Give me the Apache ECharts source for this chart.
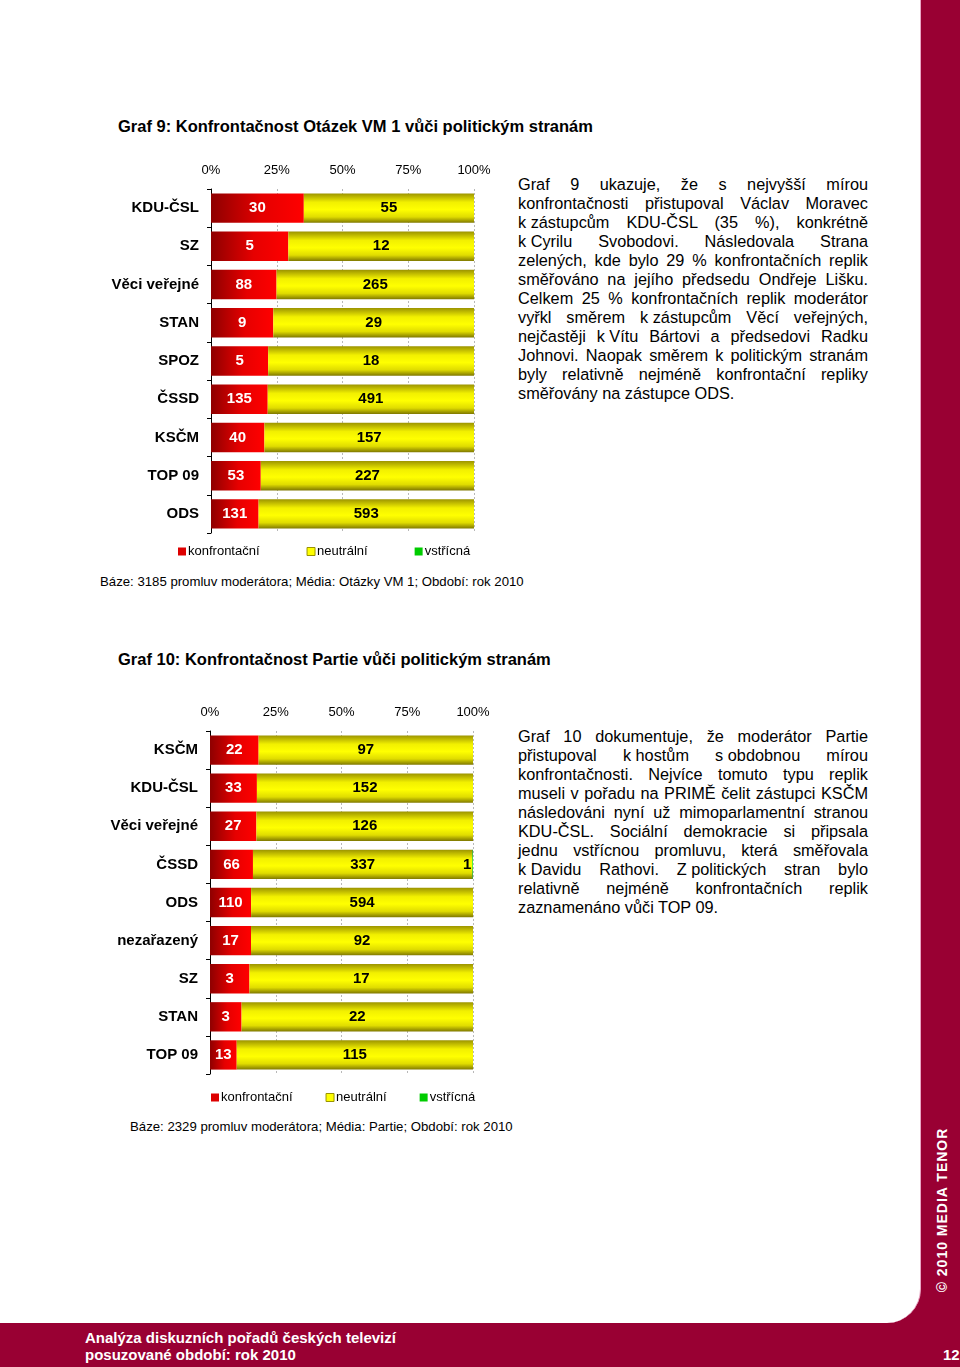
<!DOCTYPE html>
<html>
<head>
<meta charset="utf-8">
<script src="https://cdn.jsdelivr.net/npm/echarts@6/dist/echarts.min.js"></script>
<style>
html,body{margin:0;padding:0;}
body{width:960px;height:1367px;position:relative;background:#990033;overflow:hidden;font-family:'Liberation Sans',Arial,sans-serif;color:#000;}
#page{position:absolute;left:0;top:0;width:920px;height:1323px;background:#fff;border-bottom-right-radius:34px;border-right:1px solid #e9a6c4;}
#chart{position:absolute;left:0;top:0;width:960px;height:1367px;}
.title{position:absolute;font-weight:bold;font-size:16.5px;white-space:nowrap;}
.note{position:absolute;font-size:13.2px;white-space:nowrap;}
.para{position:absolute;left:518px;width:350px;font-size:16.3px;line-height:19px;}
.para div{text-align:justify;text-align-last:justify;white-space:nowrap;}
.para div.j{white-space:normal;}
.para div.last{text-align-last:left;}
.nb{display:inline-block;}
.foot{position:absolute;color:#fff;font-weight:bold;white-space:nowrap;font-family:'Liberation Sans Narrow','Liberation Sans',Arial,sans-serif;}
.copy{position:absolute;left:942px;top:1210px;transform:translate(-50%,-50%) rotate(-90deg);color:#fff;font-weight:bold;font-size:14px;letter-spacing:1px;white-space:nowrap;}
</style>
</head>
<body>
<div id="page"></div>
<div class="title" style="left:118px;top:117px;">Graf 9: Konfrontačnost Otázek VM 1 vůči politickým stranám</div>
<div class="title" style="left:118px;top:650px;">Graf 10: Konfrontačnost Partie vůči politickým stranám</div>
<div class="note" style="left:100px;top:574px;">Báze: 3185 promluv moderátora; Média: Otázky VM 1; Období: rok 2010</div>
<div class="note" style="left:130px;top:1119px;">Báze: 2329 promluv moderátora; Média: Partie; Období: rok 2010</div>
<div class="para" style="top:175px;">
<div class="j">Graf 9 ukazuje, že s nejvyšší mírou</div>
<div class="j">konfrontačnosti přistupoval Václav Moravec</div>
<div class="j"><span class="nb">k&nbsp;zástupcům</span> KDU-ČSL (35 %), konkrétně</div>
<div class="j"><span class="nb">k&nbsp;Cyrilu</span> Svobodovi. Následovala Strana</div>
<div class="j">zelených, kde bylo 29 % konfrontačních replik</div>
<div class="j">směřováno na jejího předsedu Ondřeje Lišku.</div>
<div class="j">Celkem 25 % konfrontačních replik moderátor</div>
<div class="j">vyřkl směrem <span class="nb">k&nbsp;zástupcům</span> Věcí veřejných,</div>
<div class="j">nejčastěji <span class="nb">k&nbsp;Vítu</span> Bártovi a předsedovi Radku</div>
<div class="j">Johnovi. Naopak směrem k politickým stranám</div>
<div class="j">byly relativně nejméně konfrontační repliky</div>
<div class="last">směřovány na zástupce ODS.</div>
</div>
<div class="para" style="top:727px;">
<div class="j">Graf 10 dokumentuje, že moderátor Partie</div>
<div class="j">přistupoval <span class="nb">k&nbsp;hostům</span> <span class="nb">s&nbsp;obdobnou</span> mírou</div>
<div class="j">konfrontačnosti. Nejvíce tomuto typu replik</div>
<div class="j">museli v pořadu na PRIMĚ čelit zástupci KSČM</div>
<div class="j">následováni nyní už mimoparlamentní stranou</div>
<div class="j">KDU-ČSL. Sociální demokracie si připsala</div>
<div class="j">jednu vstřícnou promluvu, která směřovala</div>
<div class="j"><span class="nb">k&nbsp;Davidu</span> Rathovi. <span class="nb">Z&nbsp;politických</span> stran bylo</div>
<div class="j">relativně nejméně konfrontačních replik</div>
<div class="last">zaznamenáno vůči TOP 09.</div>
</div>
<div class="foot" style="left:85px;top:1329px;font-size:15px;">Analýza diskuzních pořadů českých televizí</div>
<div class="foot" style="left:85px;top:1346px;font-size:15px;">posuzované období: rok 2010</div>
<div class="foot" style="left:943px;top:1346px;font-size:15px;">12</div>
<div class="copy">© 2010 MEDIA TENOR</div>
<div id="chart"></div>
<script>
// ---- data ----
var seriesNames = ['konfrontační', 'neutrální', 'vstřícná'];
var tickLabels = ['0%', '25%', '50%', '75%', '100%'];

var cats1 = ['KDU-ČSL', 'SZ', 'Věci veřejné', 'STAN', 'SPOZ', 'ČSSD', 'KSČM', 'TOP 09', 'ODS'];
var konf1 = [30, 5, 88, 9, 5, 135, 40, 53, 131];
var neut1 = [55, 12, 265, 29, 18, 491, 157, 227, 593];
var vstr1 = [0, 0, 0, 0, 0, 0, 0, 0, 0];

var cats2 = ['KSČM', 'KDU-ČSL', 'Věci veřejné', 'ČSSD', 'ODS', 'nezařazený', 'SZ', 'STAN', 'TOP 09'];
var konf2 = [22, 33, 27, 66, 110, 17, 3, 3, 13];
var neut2 = [97, 152, 126, 337, 594, 92, 17, 22, 115];
var vstr2 = [0, 0, 0, 1, 0, 0, 0, 0, 0];

// ---- build ----
function pct(arr, a, b, c) {
  return arr.map(function (v, i) {
    var t = a[i] + b[i] + c[i];
    return { value: t ? v / t * 100 : 0, count: v };
  });
}
var G = echarts.graphic.LinearGradient;
var redFill = new G(0, 0, 1, 0, [{offset: 0, color: '#8e0000'}, {offset: 0.55, color: '#e60000'}, {offset: 1, color: '#ff0000'}]);
var yelFill = new G(0, 0, 0, 1, [{offset: 0, color: '#9c9400'}, {offset: 0.3, color: '#f2f000'}, {offset: 0.55, color: '#ffff00'}, {offset: 0.8, color: '#e0dc00'}, {offset: 1, color: '#7f7800'}]);
var grnFill = new G(0, 0, 0, 1, [{offset: 0, color: '#008800'}, {offset: 0.5, color: '#00ee00'}, {offset: 1, color: '#007700'}]);
var fills = [redFill, yelFill, grnFill];
var labelColors = ['#fff', '#000', '#000'];

function mkSeries(idx, a, b, c) {
  var arrs = [a, b, c];
  return arrs.map(function (arr, k) {
    return {
      name: seriesNames[k], type: 'bar', stack: 's' + idx,
      xAxisIndex: idx, yAxisIndex: idx, barWidth: '77%',
      itemStyle: { color: fills[k] },
      label: {
        show: true,
        position: k === 2 ? 'left' : 'inside',
        distance: 1,
        color: labelColors[k], fontWeight: 'bold', fontSize: 15,
        fontFamily: 'Liberation Sans, Arial, sans-serif',
        formatter: function (p) { return p.data.count ? String(p.data.count) : ''; }
      },
      data: pct(arr, a, b, c)
    };
  });
}
function mkX(idx) {
  return {
    gridIndex: idx, type: 'value', position: 'top', min: 0, max: 100, interval: 25,
    axisLine: { show: false }, axisTick: { show: false },
    axisLabel: { margin: 12, color: '#000', fontSize: 13, fontFamily: 'Liberation Sans, Arial, sans-serif',
      formatter: function (v) { return tickLabels[Math.round(v / 25)]; } },
    splitLine: { show: true, lineStyle: { color: '#b8b8b8', type: [2, 2], width: 1 } }
  };
}
function mkY(idx, cats) {
  return {
    gridIndex: idx, type: 'category', inverse: true, data: cats,
    axisLine: { show: true, lineStyle: { color: '#000', width: 1 } },
    axisTick: { show: true, length: 4, lineStyle: { color: '#000' } },
    axisLabel: { margin: 12, color: '#000', fontSize: 15, fontWeight: 'bold', fontFamily: 'Liberation Sans, Arial, sans-serif' }
  };
}
var legendData = [
  { name: seriesNames[0], itemStyle: { color: '#dd0000', borderWidth: 0 } },
  { name: seriesNames[1], itemStyle: { color: '#ffff00', borderColor: '#9a9400', borderWidth: 1 } },
  { name: seriesNames[2], itemStyle: { color: '#00cc00', borderWidth: 0 } }
];
function mkLegend(left, top, gap) {
  return {
    left: left, top: top, orient: 'horizontal', itemWidth: 8, itemHeight: 8, itemGap: gap,
    icon: 'rect', selectedMode: false, data: legendData,
    textStyle: { color: '#000', fontSize: 13, padding: [0, 0, 0, -3], fontFamily: 'Liberation Sans, Arial, sans-serif' }
  };
}

var chart = echarts.init(document.getElementById('chart'), null, { renderer: 'canvas' });
chart.setOption({
  backgroundColor: 'transparent',
  animation: false,
  grid: [
    { left: 211, top: 189, width: 263, height: 344 },
    { left: 210, top: 731, width: 263, height: 343 }
  ],
  xAxis: [mkX(0), mkX(1)],
  yAxis: [mkY(0, cats1), mkY(1, cats2)],
  legend: [mkLegend(173, 540, 47), mkLegend(206, 1086, 33)],
  series: mkSeries(0, konf1, neut1, vstr1).concat(mkSeries(1, konf2, neut2, vstr2))
});
</script>
</body>
</html>
